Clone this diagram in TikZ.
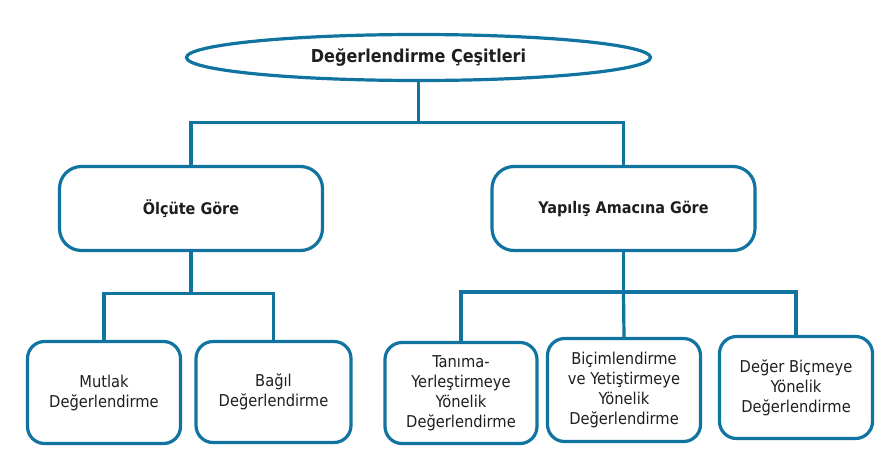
\documentclass[tikz,border=0pt]{standalone}
\usepackage{fontspec}
\setmainfont{DejaVu Sans Condensed}
\usetikzlibrary{shapes.geometric}
\definecolor{hatmavi}{RGB}{16,115,160}
\definecolor{yazi}{RGB}{30,30,30}
\tikzset{
    bag/.style={draw=hatmavi,line width=3.2pt},
    kutu/.style={bag,rounded corners=17pt,align=center,inner sep=0pt,text=yazi,font=\fontsize{16.3}{20}\selectfont},
    ustkutu/.style={bag,rounded corners=22pt,align=center,inner sep=0pt,minimum width=263pt,minimum height=84pt,text=yazi,font=\bfseries\fontsize{16}{20}\selectfont},
}

\begin{document}
\begin{tikzpicture}[x=1pt,y=-1pt]
    \useasboundingbox (0,0) rectangle (891,466);

    \node[ellipse,bag,minimum width=464pt,minimum height=46pt,text=yazi,font=\bfseries\fontsize{17.8}{20}\selectfont](kok) at (418.5,57.5){Değerlendirme Çeşitleri};

    \node[ustkutu](olcut) at (191,208.5){Ölçüte Göre};
    \node[ustkutu](yapilis) at (623.5,208.5){Yapılış Amacına Göre};

    \node[kutu,minimum width=153pt,minimum height=102pt](mutlak) at (104,392.5){Mutlak\\Değerlendirme};
    \node[kutu,minimum width=155pt,minimum height=101pt](bagil) at (273.5,392){Bağıl\\Değerlendirme};
    \node[kutu,minimum width=152pt,minimum height=101pt](tanima) at (461,393){Tanıma-\\Yerleştirmeye\\Yönelik\\Değerlendirme};
    \node[kutu,minimum width=153pt,minimum height=103pt](bicim) at (624,390){Biçimlendirme\\ve Yetiştirmeye\\Yönelik\\Değerlendirme};
    \node[kutu,minimum width=153pt,minimum height=102pt](deger) at (796,387.5){Değer Biçmeye\\Yönelik\\Değerlendirme};

    % baglanti noktalari
    \coordinate (d0) at (kok.south |- 0,122.5);
    \coordinate (d1) at (olcut.south |- 0,293.5);
    \coordinate (d2) at (yapilis.south |- 0,292);

    \draw[bag](kok.south)--(d0);
    \draw[bag](olcut.north)|-(d0)-|(yapilis.north);

    \draw[bag](olcut.south)--(d1);
    \draw[bag](mutlak.north)|-(d1)-|(bagil.north);

    \draw[bag](yapilis.south)--(d2);
    \draw[bag](tanima.north)|-(d2)-|(deger.north);
    \draw[bag](d2)--(bicim.north);
\end{tikzpicture}
\end{document}
